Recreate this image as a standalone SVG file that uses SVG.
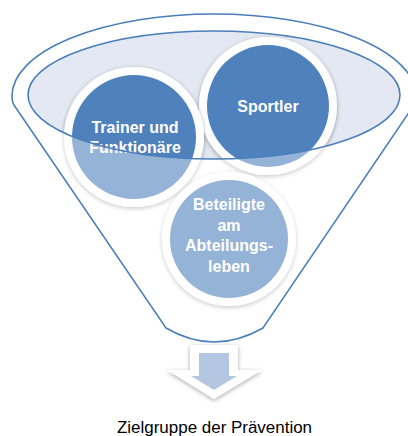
<svg xmlns="http://www.w3.org/2000/svg" width="408" height="436" viewBox="0 0 408 436">
<style>
.line{fill:none;stroke:#4A7EBB;stroke-width:1.6}
.ring{fill:#fff;filter:url(#sh)}
.core{fill:#4F81BD}
.lbl{font-family:"Liberation Sans",Arial,sans-serif;font-weight:bold;font-size:16px;fill:#fff;text-anchor:middle}
.cap{font-family:"Liberation Sans",Arial,sans-serif;font-size:16px;fill:#000;text-anchor:middle}
</style>
<defs>
<filter id="sh" x="-20%" y="-20%" width="140%" height="140%">
<feDropShadow dx="0" dy="1.5" stdDeviation="2.2" flood-color="#000" flood-opacity="0.35"/>
</filter>
</defs>
<rect width="408" height="436" fill="#fff"/>
<g id="funnel">
<path d="M12,96 A202 82 0 0 1 416 96 Q416,104 412,108 L263,328 Q214,356 166,328 L16,108 Q12,104 12,96 Z" fill="#fff"/>
<ellipse cx="214" cy="95" rx="186" ry="64" fill="#E3E8F2"/>
</g>
<g id="node-sportler">
<circle class="ring" cx="268" cy="106" r="69"/>
<circle class="core" cx="268" cy="106" r="61"/>
<text class="lbl" x="268" y="112">Sportler</text>
</g>
<g id="node-trainer">
<circle class="ring" cx="134" cy="137" r="70"/>
<circle class="core" cx="134" cy="137" r="62"/>
<text class="lbl" x="135" y="133">Trainer und</text>
<text class="lbl" x="135" y="153">Funktionäre</text>
</g>
<g id="node-beteiligte">
<circle class="ring" cx="229" cy="239" r="67"/>
<circle class="core" cx="229" cy="239" r="59"/>
<text class="lbl" x="229" y="210">Beteiligte</text>
<text class="lbl" x="229" y="231">am</text>
<text class="lbl" x="229" y="251">Abteilungs-</text>
<text class="lbl" x="229" y="272">leben</text>
</g>
<g id="funnel-front">
<path d="M12,96 A202 82 0 0 1 416 96 Q416,104 412,108 L263,328 Q214,356 166,328 L16,108 Q12,104 12,96 Z M28,95 A186 64 0 1 0 400 95 A186 64 0 1 0 28 95 Z" fill="#fff" fill-opacity="0.4" fill-rule="evenodd"/>
<path class="line" d="M12,96 A202 82 0 0 1 416 96 Q416,104 412,108 L263,328 Q214,356 166,328 L16,108 Q12,104 12,96 Z"/>
<ellipse class="line" cx="214" cy="95" rx="186" ry="64"/>
</g>
<g id="connectors">
<polygon points="190,345 238,345 238,370 262,370 214,399 167,370 190,370" fill="#fff" filter="url(#sh)"/>
<polygon points="199,353 229,353 229,376 237,376 214,390 191,376 199,376" fill="#B3C6E2"/>
</g>
<g id="caption">
<text class="cap" x="214.5" y="433" textLength="195" lengthAdjust="spacingAndGlyphs">Zielgruppe der Prävention</text>
</g>
</svg>
